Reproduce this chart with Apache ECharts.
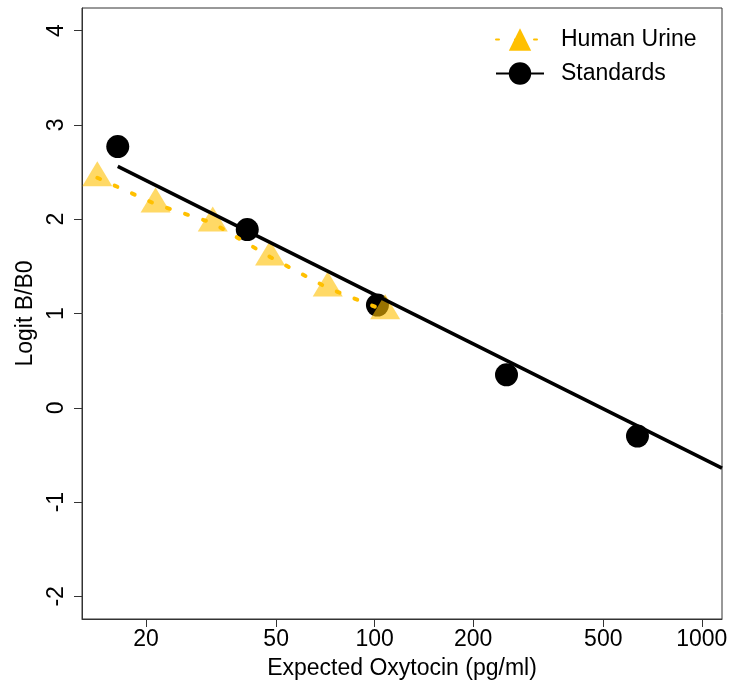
<!DOCTYPE html>
<html>
<head>
<meta charset="utf-8">
<script src="https://cdn.jsdelivr.net/npm/echarts@6/dist/echarts.min.js"></script>
<style>
  html, body { margin: 0; padding: 0; background: #fff; }
  #chart { width: 732px; height: 689px; }
</style>
</head>
<body>
<div id="chart"></div>
<script>
// data
var stdConc = [16.4, 40.8, 102, 253, 636];
var stdLogit = [2.77, 1.89, 1.09, 0.35, -0.30];

var urineConc = [14.2, 21.4, 32.0, 47.9, 71.9, 107.7];
var urineLogit = [2.44, 2.16, 1.96, 1.60, 1.27, 1.03];

// fitted line for the standards (ends clipped at the plot edge)
var fitConc = [16.4, 1153];
var fitLogit = [2.56, -0.64];

var xTicks = [20, 50, 100, 200, 500, 1000];
var yTicks = [-2, -1, 0, 1, 2, 3, 4];
var xRange = [12.75, 1153];
var yRange = [-2.24, 4.24];

function toPairs(xs, ys){
  var out = [];
  for(var i = 0; i < xs.length; i++){
    out.push([Math.log10(xs[i]), ys[i]]);
  }
  return out;
}

var font = "'Liberation Sans', Arial, sans-serif";

var chart = echarts.init(document.getElementById("chart"));

var option = {
  animation: false,
  textStyle: { fontFamily: font },

  grid: {
    left: 82,
    right: 10,
    top: 8,
    bottom: 70,
    show: true,
    borderColor: "#333",
    borderWidth: 1
  },

  legend: {
    orient: "vertical",
    left: 490,
    top: 23,
    itemWidth: 48,
    itemHeight: 28,
    itemGap: 11,
    textStyle: {
      fontSize: 23,
      color: "#000",
      fontFamily: font,
      padding: [0, 0, 0, 12]
    },
    data: [
      { name: "Human Urine", itemStyle: { color: "#FFC000" } },
      { name: "Standards" }
    ]
  },

  xAxis: {
    type: "value",
    min: Math.log10(xRange[0]),
    max: Math.log10(xRange[1]),
    name: "Expected Oxytocin (pg/ml)",
    nameLocation: "middle",
    nameGap: 38,
    nameTextStyle: { fontSize: 23, color: "#000", fontFamily: font },
    axisLine: { show: true, onZero: false, lineStyle: { color: "#333" } },
    axisTick: {
      show: true,
      length: 8,
      customValues: xTicks.map(function(v){ return Math.log10(v); }),
      lineStyle: { color: "#333" }
    },
    axisLabel: {
      customValues: xTicks.map(function(v){ return Math.log10(v); }),
      formatter: function(v){ return String(Math.round(Math.pow(10, v))); },
      fontSize: 23,
      color: "#000",
      margin: 9
    },
    splitLine: { show: false }
  },

  yAxis: {
    type: "value",
    min: yRange[0],
    max: yRange[1],
    name: "Logit B/B0",
    nameLocation: "middle",
    nameRotate: 90,
    nameGap: 45,
    nameTextStyle: { fontSize: 23, color: "#000", fontFamily: font },
    axisLine: { show: true, onZero: false, lineStyle: { color: "#333" } },
    axisTick: {
      show: true,
      length: 8,
      customValues: yTicks,
      lineStyle: { color: "#333" }
    },
    axisLabel: {
      customValues: yTicks,
      rotate: 90,
      fontSize: 23,
      color: "#000",
      margin: 14
    },
    splitLine: { show: false }
  },

  series: [
    {
      type: "scatter",
      z: 2,
      symbol: "circle",
      symbolSize: 23,
      itemStyle: { color: "#000", opacity: 1 },
      data: toPairs(stdConc, stdLogit)
    },
    {
      type: "scatter",
      z: 3,
      symbol: "triangle",
      symbolSize: [30, 25],
      symbolOffset: [0, -4],
      itemStyle: { color: "rgba(255,192,0,0.6)", opacity: 1 },
      data: toPairs(urineConc, urineLogit)
    },
    {
      name: "Human Urine",
      type: "line",
      z: 4,
      symbol: "triangle",
      showSymbol: false,
      itemStyle: { color: "#FFC000" },
      lineStyle: { color: "#FFC000", width: 4, type: [3, 16], cap: "round" },
      data: toPairs(urineConc, urineLogit)
    },
    {
      name: "Standards",
      type: "line",
      z: 5,
      symbol: "circle",
      showSymbol: false,
      itemStyle: { color: "#000" },
      lineStyle: { color: "#000", width: 3.5 },
      data: toPairs(fitConc, fitLogit)
    }
  ]
};

chart.setOption(option);
</script>
</body>
</html>
